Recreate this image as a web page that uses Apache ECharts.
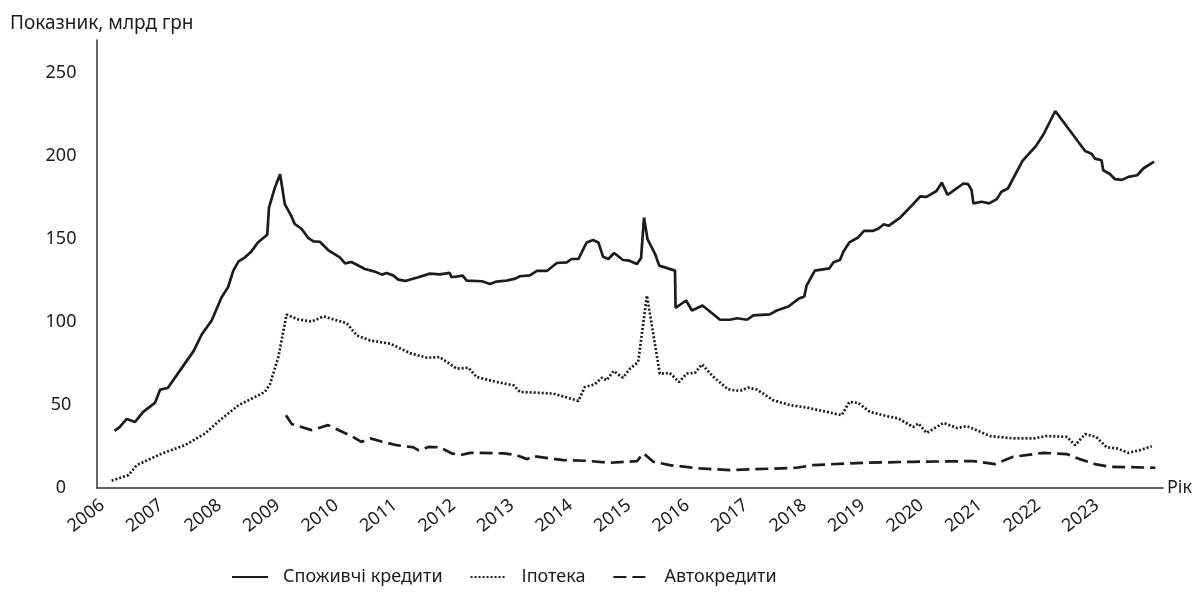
<!DOCTYPE html>
<html>
<head>
<meta charset="utf-8">
<script src="https://cdn.jsdelivr.net/npm/echarts@6/dist/echarts.min.js"></script>
<style>
html,body{margin:0;padding:0;background:#fff;}
#chart{width:1195px;height:593px;}
</style>
</head>
<body>
<div id="chart"></div>
<script>
// Споживчі кредити (consumer credit), year fraction and value, bn UAH
const consumerX = [2006.30,2006.39,2006.51,2006.65,2006.79,2006.99,2007.08,2007.21,2007.42,2007.65,2007.79,2007.96,2008.13,2008.24,2008.33,2008.42,2008.53,2008.64,2008.75,2008.91,2008.94,2009.04,2009.13,2009.21,2009.32,2009.38,2009.50,2009.61,2009.70,2009.81,2009.95,2010.15,2010.24,2010.35,2010.58,2010.75,2010.87,2010.95,2011.07,2011.15,2011.27,2011.49,2011.69,2011.86,2012.03,2012.06,2012.25,2012.32,2012.58,2012.72,2012.83,2013.00,2013.15,2013.23,2013.40,2013.52,2013.69,2013.86,2014.03,2014.11,2014.23,2014.37,2014.48,2014.57,2014.65,2014.74,2014.84,2014.99,2015.10,2015.23,2015.30,2015.35,2015.41,2015.54,2015.61,2015.88,2015.89,2016.07,2016.17,2016.35,2016.65,2016.82,2016.94,2017.11,2017.22,2017.50,2017.62,2017.82,2017.99,2018.09,2018.13,2018.27,2018.52,2018.59,2018.70,2018.76,2018.86,2019.01,2019.11,2019.27,2019.36,2019.45,2019.53,2019.73,2019.95,2020.07,2020.18,2020.35,2020.44,2020.54,2020.81,2020.89,2020.95,2020.98,2021.12,2021.25,2021.38,2021.46,2021.57,2021.82,2022.05,2022.18,2022.38,2022.89,2023.00,2023.06,2023.17,2023.20,2023.32,2023.40,2023.52,2023.63,2023.78,2023.89,2024.07];
const consumerY = [34.4,36.8,41.6,39.8,45.9,51.3,59.3,60.3,70.9,82.5,92.5,101,115,121,131,136.6,139,142.6,148,152.6,169,181,189.1,171.1,164,159.1,156.1,150.7,148.6,148.4,143.4,139,135.4,136.2,132,130.4,128.6,129.6,128,125.6,124.8,127,129.2,128.8,129.6,127,128,125,124.6,123,124.4,125,126.2,127.6,128.2,130.8,130.8,135.6,136,138,138,148,149.5,148,139.4,138,141.6,137.4,137,135,138.6,163,150,141,134,131,108.6,113,107,110,101.4,101.4,102.3,101.4,104,104.6,107,109.4,114,115.4,122,131,132.4,136,137.4,142.6,148,151,155,155,156.4,159,158,163,171.1,175.7,175.5,179,184,176.7,183.5,183.1,179.5,171.5,172.5,171.5,174.1,178.5,180.5,197.1,206.1,213.2,227.2,203.1,201.5,198.5,197.5,191.5,189.1,186.1,185.7,187.5,188.5,192.7,196.7];

// Іпотека (mortgage)
const mortgageX = [2006.25,2006.54,2006.68,2007.11,2007.50,2007.85,2008.10,2008.42,2008.87,2008.96,2009.10,2009.24,2009.44,2009.67,2009.87,2010.27,2010.44,2010.67,2011.01,2011.35,2011.64,2011.86,2012.15,2012.35,2012.49,2012.83,2013.12,2013.23,2013.80,2014.23,2014.34,2014.51,2014.63,2014.71,2014.83,2014.99,2015.11,2015.25,2015.40,2015.48,2015.62,2015.79,2015.95,2016.08,2016.22,2016.34,2016.54,2016.79,2016.99,2017.13,2017.28,2017.56,2017.85,2018.13,2018.47,2018.73,2018.86,2019.01,2019.21,2019.50,2019.70,2019.95,2020.04,2020.18,2020.47,2020.70,2020.87,2021.27,2021.66,2022.01,2022.23,2022.58,2022.72,2022.89,2023.08,2023.26,2023.43,2023.63,2023.83,2024.03];
const mortgageY = [4.4,7.8,13.8,20.8,25.8,32.9,40.9,49.9,57.9,62.9,78.9,104.5,101.6,100.3,103.4,99.3,92,88.9,87,81.3,78.5,78.9,71.9,72.5,66.9,63.9,61.9,57.9,56.9,52.5,60.9,62.5,66.5,64.9,70.5,66.5,71.9,75.9,116,99,68.9,69.3,63.9,68.9,69.3,74.5,66.9,59.4,58.5,60.5,59.3,52.9,49.9,48.5,45.9,43.9,51.9,51.3,45.9,43.3,41.9,36.8,38.9,33.2,39.2,36.2,37.3,31.3,29.9,29.9,31.3,30.8,25.8,32.5,30.8,24.5,23.9,21.2,22.8,25.2];

// Автокредити (auto loans)
const autoX = [2009.23,2009.33,2009.67,2009.95,2010.35,2010.52,2010.67,2010.89,2011.12,2011.41,2011.49,2011.68,2011.86,2012.06,2012.21,2012.38,2012.95,2013.17,2013.35,2013.46,2013.97,2014.37,2014.77,2015.23,2015.34,2015.51,2015.79,2016.14,2016.31,2016.82,2017.96,2018.24,2019.10,2019.95,2020.98,2021.35,2021.66,2022.18,2022.58,2022.80,2023.08,2023.32,2024.09];
const autoY = [43.9,38.5,34.9,37.9,31.3,27.8,29.9,27.8,25.8,24.5,22.8,24.8,24.5,20.9,19.8,21.2,20.9,19.8,17.4,19.2,16.8,16.4,15.2,16.2,20.9,15.8,13.8,12.4,11.8,10.8,12.2,13.8,15.2,15.8,16.2,14.4,18.8,21.2,20.4,17.4,14.2,12.8,12.2];

const seriesNames = ['Споживчі кредити', 'Іпотека', 'Автокредити'];
const yTicks = [0, 50, 100, 150, 200, 250];
const yearLabels = [2006,2007,2008,2009,2010,2011,2012,2013,2014,2015,2016,2017,2018,2019,2020,2021,2022,2023];

const pair = (xs, ys) => xs.map((x, i) => [x, ys[i]]);
const ink = '#1c1c1c';
const font = '"Noto Sans", "Open Sans", sans-serif';

const chart = echarts.init(document.getElementById('chart'));
chart.setOption({
  animation: false,
  backgroundColor: '#fff',
  title: {
    text: 'Показник, млрд грн',
    left: 5, top: 9,
    textStyle: { fontFamily: font, fontSize: 19, fontWeight: 'normal', color: ink }
  },
  grid: { left: 97, right: 32, top: 40, bottom: 105 },
  legend: {
    left: 231, top: 568, padding: 0,
    itemWidth: 36, itemHeight: 10, itemGap: 27,
    data: seriesNames,
    itemStyle: { opacity: 0 },
    textStyle: { fontFamily: font, fontSize: 18, color: ink, padding: [0, 0, 0, 10] }
  },
  xAxis: {
    type: 'value',
    min: 2006, max: 2024.22, interval: 1,
    name: 'Рік', nameLocation: 'end', nameGap: 4,
    nameTextStyle: { fontFamily: font, fontSize: 18, color: ink, verticalAlign: 'middle', padding: [30, 0, 0, 0] },
    splitLine: { show: false },
    axisTick: { show: false },
    axisLine: { show: true, lineStyle: { color: '#333', width: 1.5 } },
    axisLabel: {
      rotate: 38, margin: 8, verticalAlign: 'top',
      fontFamily: font, fontSize: 18, color: ink,
      showMaxLabel: false,
      formatter: v => (yearLabels.indexOf(Math.round(v)) >= 0 && Math.abs(v - Math.round(v)) < 1e-6) ? String(Math.round(v)) : ''
    }
  },
  yAxis: {
    type: 'value',
    min: 0, max: 270, interval: 50,
    splitLine: { show: false },
    axisTick: { show: false },
    axisLine: { show: true, lineStyle: { color: '#333', width: 1.5 } },
    axisLabel: {
      margin: 36, align: 'center', fontFamily: font, fontSize: 18, color: ink,
      formatter: v => yTicks.indexOf(v) >= 0 ? String(v) : ''
    }
  },
  series: [
    {
      name: seriesNames[0], type: 'line', data: pair(consumerX, consumerY),
      symbol: 'none', color: ink,
      lineStyle: { color: ink, width: 2.7, type: 'solid' }
    },
    {
      name: seriesNames[1], type: 'line', data: pair(mortgageX, mortgageY),
      symbol: 'none', color: ink,
      lineStyle: { color: ink, width: 2.7, type: [2, 2] }
    },
    {
      name: seriesNames[2], type: 'line', data: pair(autoX, autoY),
      symbol: 'none', color: ink,
      lineStyle: { color: ink, width: 2.7, type: [13, 6] }
    }
  ]
});
</script>
</body>
</html>
